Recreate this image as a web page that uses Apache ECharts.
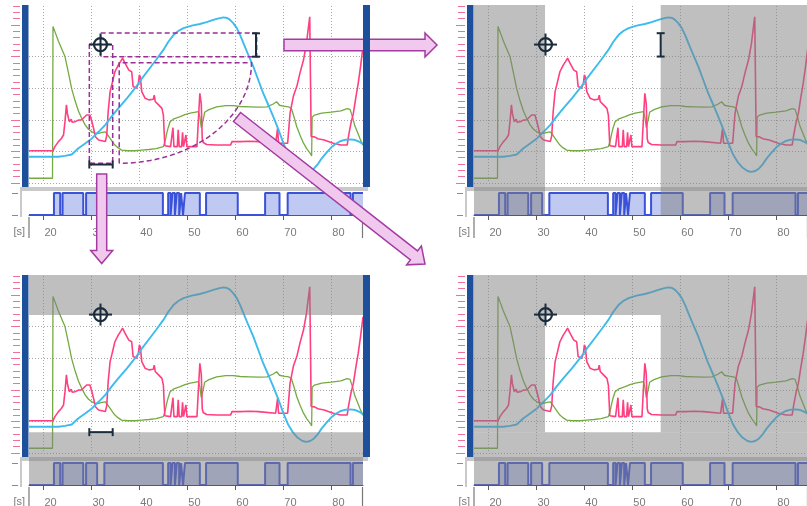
<!DOCTYPE html>
<html><head><meta charset="utf-8">
<script src="https://cdn.jsdelivr.net/npm/echarts@6/dist/echarts.min.js"></script>
<style>html,body{margin:0;padding:0;background:#fff}#c{width:807px;height:506px}</style>
</head><body><div id="c"></div>
<script>
// ---------- data ----------
const xTicks = [20, 30, 40, 50, 60, 70, 80];
const timeRange = [17, 86.6];
const valueRange = [0, 56];
const pinkSeries = [
[17,10.2],[22.0,10.2],[22.4,11.5],[23.1,13.0],[23.7,14.0],[24.2,15.2],[24.5,19.4],[24.8,24.7],[25.0,22],[25.2,22.6],[25.4,19.4],[25.8,20.2],[26.0,19.2],[26.6,19.4],[27.0,19.5],[27.3,19.9],[28.0,20.0],[28.4,20.3],[29.0,21.5],[29.7,21.5],[30.1,19.4],[30.5,17],[30.8,14.7],[31.5,13.6],[32.9,13.1],[33.2,15],[33.5,22.6],[33.9,28.9],[34.4,32],[34.9,35.2],[35.3,35.5],[35.6,37.3],[36.1,38.5],[36.5,39.5],[37.0,37.9],[37.4,36.8],[37.8,35.7],[38.4,35.2],[38.7,30.5],[39.4,30.0],[39.8,31.5],[40.0,34.2],[40.2,33.5],[40.5,28.9],[41.2,26.8],[42.0,26.3],[42.9,26.5],[43.1,27.8],[43.3,25.8],[44.0,24.7],[44.7,23.6],[45.0,21.5],[45.3,11.8],[46.5,11.5],[46.7,14],[47.0,17.5],[47.2,11.5],[47.9,11.5],[48.1,16.8],[48.3,11.5],[48.8,11.5],[49.0,16.0],[49.2,11.5],[49.5,11.5],[49.7,15.2],[49.9,11.5],[52.0,11.5],[52.3,20],[52.6,28.4],[52.9,25],[53.1,14],[53.3,12.8],[54,12.2],[56,12.0],[59.0,12.0],[59.3,13.1],[61,13.1],[63,13.2],[64.8,13.1],[65.0,12.6],[68.4,12.6],[68.6,13],[68.8,17.3],[69.0,12.6],[70.9,12.6],[71.4,22.1],[72.1,27.5],[72.8,30.5],[73.5,35],[74.2,38.9],[74.8,44],[75.5,52.6],[75.7,52.6],[75.8,14.7],[76.5,14.6],[77.2,14.0],[78.5,13.6],[80.4,12.6],[82.0,12.0],[83.3,12.0],[83.6,15],[84.1,19],[84.6,22.1],[85.1,27],[85.6,31.5],[86.1,37],[86.6,43.1]
];
const greenSeries = [
[17,1.5],[21.9,1.5],[22.0,49.5],[22.5,47.5],[23.1,45.0],[23.8,42.5],[24.5,40.0],[25.2,35.0],[25.9,29.8],[26.6,26.0],[27.3,22.8],[28.0,20.4],[28.7,18.4],[29.4,17.0],[30.1,16.2],[30.8,15.8],[31.5,15.7],[32.2,16.0],[32.9,16.2],[33.4,15.2],[33.9,14.1],[34.4,13.0],[34.9,12.0],[35.6,11.1],[36.3,10.4],[37.5,10.2],[39.1,10.2],[40.5,10.4],[42,10.6],[43.5,10.9],[45.0,11.5],[45.4,13.5],[45.7,15.7],[46.0,17.5],[46.4,19.4],[47.2,20.3],[48.5,21.0],[49.5,21.6],[50.6,22.1],[52.3,22.6],[52.6,21],[52.9,17.5],[53.1,17.0],[53.3,20],[53.6,22.4],[54.5,23.2],[56.1,24.1],[58.0,24.5],[59.6,24.5],[61,24.2],[63,24.1],[65,24.0],[66.6,24.1],[67.9,25.0],[68.6,25.7],[69.2,24.6],[70.0,24.3],[71.1,24.1],[71.7,23.5],[72.3,20.5],[72.8,17.8],[73.5,15],[74.2,12.6],[74.9,10.8],[75.6,9.4],[75.9,8.6],[76.0,20.8],[76.5,21.5],[78,22.1],[80,22.4],[82,22.8],[83.3,23.5],[83.9,23.3],[84.4,21],[84.9,18.1],[85.6,15.5],[86.0,13.9],[86.6,11.9]
];
const blueSeries = [
[17,8.3],[20,8.3],[23.1,8.3],[24.5,8.6],[25.9,9.0],[27.3,11.0],[28.7,12.5],[30.1,14.1],[31.5,16.2],[32.9,18.4],[34.2,21.0],[35.6,23.6],[37.4,26.8],[39.1,30.0],[40.5,33.0],[42.0,36.0],[43.5,39.0],[45.0,42.1],[46.0,44.6],[47.1,46.8],[48.1,48.1],[49.2,49.0],[50.9,49.8],[52.6,50.3],[54.0,50.9],[55.4,51.6],[56.5,52.1],[57.5,52.4],[58.3,52.2],[58.9,51.6],[59.6,50.5],[60.3,49.0],[61.0,46.8],[61.7,44.2],[62.7,40.5],[63.75,36.8],[64.8,32.5],[65.8,28.4],[66.9,24.6],[67.9,21.0],[69.0,16.8],[70.0,12.6],[71.0,9.0],[72.0,6.5],[73.0,4.8],[74.0,3.8],[74.8,3.5],[75.6,3.8],[76.4,4.6],[77.2,6.0],[78.0,7.8],[79.0,9.6],[80.0,11.3],[81.0,12.5],[82.0,13.3],[83.0,13.7],[84.0,13.8],[85.0,13.6],[86.0,12.9],[86.6,12.3]
];
const digitalSeries = [
[17,0],[22.2,1],[23.5,0],[24.0,1],[28.3,0],[28.9,1],[31.2,0],[32.7,1],[44.9,0],[46.0,1],[46.5,0],[46.9,1],[47.4,0],[47.8,1],[48.3,0],[48.7,1],[49.1,0],[49.5,1],[52.6,0],[53.9,1],[60.5,0],[66.2,1],[69.2,0],[70.9,1],[84.0,0],[84.5,1],[86.6,1]
];

// annotation anchors (data units)
const cross = [31.9, 43.8];
const selX = [31.8, 55.9];
const selY = [6.6, 43.7];

// ---------- layout ----------
const PANELS = [[0,0],[445,0],[0,270],[445,270]];
const GL = 29, GW = 334, MT = 6, MH = 177, ST = 193, SH = 22;
const C = {pink:'#ff3f80', green:'#74aa40', blue:'#3dbbef', dig:'#3a52d8', digFill:'#c0c9f2', bar:'#1d4f9b', tickPink:'#f0709c', grid:'#a8a8a8', label:'#7a7a7a'};
const FONT = 'Liberation Sans';

const chart = echarts.init(document.getElementById('c'), null, {renderer:'canvas'});
const grid = [], xAxis = [], yAxis = [], series = [];
PANELS.forEach(([ox, oy], p) => {
  grid.push({left: ox+GL, top: oy+MT, width: GW, height: MH, containLabel:false, outerBoundsMode:'none'});
  grid.push({left: ox+GL, top: oy+ST, width: GW, height: SH, containLabel:false, outerBoundsMode:'none'});
  xAxis.push({gridIndex: 2*p, type:'value', position:'bottom', min: timeRange[0], max: timeRange[1],
    axisLine:{show:false}, axisTick:{show:false}, axisLabel:{show:false},
    splitLine:{show:true, showMinLine:false, showMaxLine:false, lineStyle:{color:C.grid, type:[1,2], width:1}}});
  xAxis.push({gridIndex: 2*p+1, type:'value', position:'bottom', min: timeRange[0], max: timeRange[1], offset:2,
    axisLine:{show:true, lineStyle:{color:'#5a5a5a', width:1}},
    axisTick:{show:true, length:5, lineStyle:{color:'#5a5a5a'}, customValues: xTicks},
    axisLabel:{show:true, customValues: xTicks, color:C.label, fontSize:11, fontFamily:FONT, align:'left', margin:10, padding:[0,0,0,1]},
    splitLine:{show:false}});
  yAxis.push({gridIndex: 2*p, type:'value', position:'left', min: valueRange[0], max: valueRange[1], interval:10, offset:9,
    axisLine:{show:false}, axisLabel:{show:false},
    axisTick:{show:true, length:9, lineStyle:{color:C.tickPink, width:1}, customValues:[0,10,20,30,40,50]},
    splitLine:{show:true, showMaxLine:false, lineStyle:{color:C.grid, type:[1,2], width:1}}});
  yAxis.push({gridIndex: 2*p, type:'value', position:'left', min: valueRange[0], max: valueRange[1], interval:2, offset:9,
    axisLine:{show:false}, axisLabel:{show:false},
    axisTick:{show:true, length:7, lineStyle:{color:C.tickPink, width:1}},
    splitLine:{show:false}});
  yAxis.push({gridIndex: 2*p+1, type:'value', position:'left', min:0, max:1, interval:1, offset:11,
    axisLine:{show:false}, axisLabel:{show:false},
    axisTick:{show:true, length:6, lineStyle:{color:'#6f86e8', width:1}},
    splitLine:{show:false}});
  const common = {type:'line', showSymbol:false, symbol:'none', silent:true, animation:false, xAxisIndex:2*p, yAxisIndex:3*p, z:2};
  series.push(Object.assign({}, common, {name:'green', data: greenSeries, lineStyle:{color:C.green, width:1.3}}));
  series.push(Object.assign({}, common, {name:'pink', data: pinkSeries, lineStyle:{color:C.pink, width:1.6}}));
  series.push(Object.assign({}, common, {name:'blue', data: blueSeries, lineStyle:{color:C.blue, width:1.9}}));
  series.push({type:'line', name:'digital', step:'end', showSymbol:false, symbol:'none', silent:true, animation:false,
    xAxisIndex:2*p+1, yAxisIndex:3*p+2, data: digitalSeries,
    lineStyle:{color:C.dig, width:2}, areaStyle:{color:C.digFill, opacity:1}});
});

chart.setOption({animation:false, backgroundColor:'#fff', grid, xAxis, yAxis, series});

// ---------- annotations ----------
const G = [];
const toPx = (p, x, y) => chart.convertToPixel({xAxisIndex: 2*p, yAxisIndex: 3*p}, [x, y]);
function rect(x, y, w, h, fill, z) { G.push({type:'rect', silent:true, z, shape:{x, y, width:w, height:h}, style:{fill}}); }
function line(x1, y1, x2, y2, stroke, lw, z, dash) { G.push({type:'line', silent:true, z, shape:{x1, y1, x2, y2}, style:{stroke, lineWidth:lw, lineDash: dash || null}}); }
const SHADE = 'rgba(128,128,128,0.5)';
const MARK = '#1b2d3c';
function crosshair(cx, cy) {
  G.push({type:'circle', silent:true, z:80, shape:{cx, cy, r:6.5}, style:{stroke:MARK, lineWidth:2.2, fill:null}});
  line(cx-11.5, cy, cx+11.5, cy, MARK, 2, 80);
  line(cx, cy-11, cx, cy+11, MARK, 2, 80);
}
function ibeamV(x, y1, y2) { line(x, y1, x, y2, MARK, 2, 80); line(x-4, y1, x+4, y1, MARK, 2, 80); line(x-4, y2, x+4, y2, MARK, 2, 80); }
function ibeamH(x1, x2, y) { line(x1, y, x2, y, MARK, 2, 80); line(x1, y-4, x1, y+4, MARK, 2, 80); line(x2, y-4, x2, y+4, MARK, 2, 80); }

PANELS.forEach(([ox, oy], p) => {
  const L = ox+GL, R = ox+GL+GW;
  // separator frame
  rect(ox+20, oy+187, R+5-(ox+20), 4, '#c9c9c9', 40);
  rect(ox+20, oy+187, 2, 30, '#c9c9c9', 40);
  // blue bars
  rect(ox+22, oy+5, 6.5, 182, C.bar, 70);
  rect(R, oy+5, 7, 182, C.bar, 70);
  // end ticks of time axis
  line(L, oy+217, L, oy+238, '#777', 1.2, 45);
  line(R-0.5, oy+217, R-0.5, oy+238, '#777', 1.2, 45);
  G.push({type:'text', silent:true, z:45, style:{x: ox+25, y: oy+232, text:'[s]', fill:C.label, font:'11px "'+FONT+'"', textAlign:'right', textVerticalAlign:'middle'}});

  const X1 = toPx(p, selX[0], 0)[0], X2 = toPx(p, selX[1], 0)[0];
  const Y1 = toPx(p, 0, selY[1])[1], Y2 = toPx(p, 0, selY[0])[1];
  const T = oy+5, B = oy+215;
  if (p === 1) {
    rect(L, T, X1-L, B-T, SHADE, 50);
    rect(X2, T, R-X2, B-T, SHADE, 50);
  } else if (p === 2) {
    rect(L, T, R-L, Y1-T, SHADE, 50);
    rect(L, Y2, R-L, B-Y2, SHADE, 50);
  } else if (p === 3) {
    rect(L, T, R-L, Y1-T, SHADE, 50);
    rect(L, Y2, R-L, B-Y2, SHADE, 50);
    rect(L, Y1, X1-L, Y2-Y1, SHADE, 50);
    rect(X2, Y1, R-X2, Y2-Y1, SHADE, 50);
  }
  const cp = toPx(p, cross[0], cross[1]);
  crosshair(cp[0], cp[1]);
  if (p === 1) {
    const a = toPx(p, selX[1], 47.4), b = toPx(p, selX[1], 40.0);
    ibeamV(a[0], a[1], b[1]);
  }
  if (p === 2) {
    const a = toPx(p, 29.57, selY[0]), b = toPx(p, 34.44, selY[0]);
    ibeamH(a[0], b[0], a[1]);
  }
});

// panel 1 selection sketches
(function () {
  const P = '#9a2f98', D = [5, 3];
  const dash = (pts) => G.push({type:'polyline', silent:true, z:75, shape:{points: pts}, style:{stroke:P, lineWidth:1.5, lineDash:D, fill:null}});
  const r1a = toPx(0, 29.57, 43.88), r1b = toPx(0, 34.44, 6.23);
  dash([[r1a[0], r1a[1]], [r1b[0], r1a[1]], [r1b[0], r1b[1]], [r1a[0], r1b[1]], [r1a[0], r1a[1]]]);
  const r2a = toPx(0, 31.94, 47.46), r2b = toPx(0, 64.45, 39.96);
  dash([[r2a[0], r2a[1]], [r2b[0], r2a[1]], [r2b[0], r2b[1]], [r2a[0], r2b[1]], [r2a[0], r2a[1]]]);
  const c = toPx(0, 35.8, 38.06), e = toPx(0, 63.36, 6.23);
  const rx = e[0]-c[0], ry = e[1]-c[1];
  const pts = [[c[0], c[1]+ry], [c[0], c[1]]];
  for (let i = 0; i <= 40; i++) { const t = i/40*Math.PI/2; pts.push([c[0]+rx*Math.cos(t), c[1]+ry*Math.sin(t)]); }
  dash(pts);
  const ia = toPx(0, 64.3, 47.36), ib = toPx(0, 64.3, 39.96);
  ibeamV(ia[0], ia[1], ib[1]);
  const ha = toPx(0, 29.57, 5.85), hb = toPx(0, 34.44, 5.85);
  ibeamH(ha[0], hb[0], ha[1]);
})();

// arrows
function arrow(x1, y1, x2, y2, sw, hw, hl) {
  const dx = x2-x1, dy = y2-y1, len = Math.hypot(dx, dy), ux = dx/len, uy = dy/len, nx = -uy, ny = ux;
  const bx = x2-ux*hl, by = y2-uy*hl;
  const pts = [[x1+nx*sw/2, y1+ny*sw/2], [bx+nx*sw/2, by+ny*sw/2], [bx+nx*hw/2, by+ny*hw/2], [x2, y2],
               [bx-nx*hw/2, by-ny*hw/2], [bx-nx*sw/2, by-ny*sw/2], [x1-nx*sw/2, y1-ny*sw/2]];
  G.push({type:'polygon', silent:true, z:60, shape:{points: pts}, style:{fill:'#f2c9ee', stroke:'#a23ca0', lineWidth:1.5}});
}
arrow(284, 45, 437, 45, 11.5, 24, 12);
arrow(101.7, 174, 101.7, 263.5, 10, 22, 13);
arrow(237, 117, 425, 264, 11.5, 24, 14);

chart.setOption({graphic: {elements: G}});
</script></body></html>
